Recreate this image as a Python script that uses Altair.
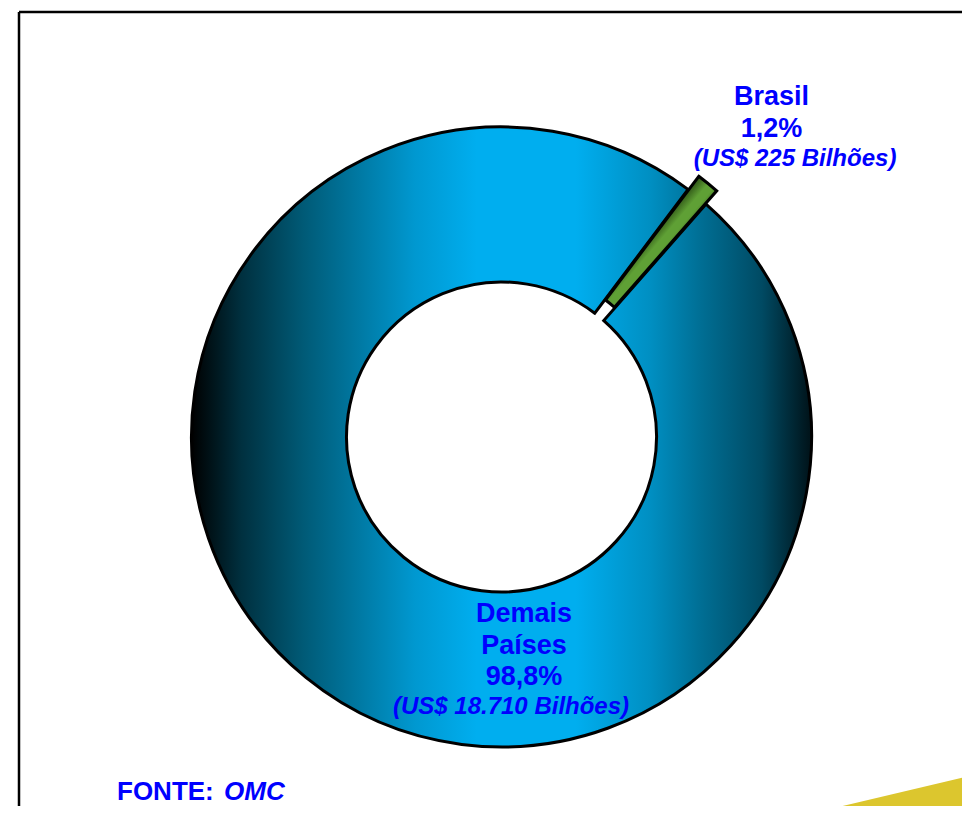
import math
import altair as alt
import pandas as pd

# ---------------- data ----------------
categories = ["Brasil", "Demais Países"]
values_bn = [225, 18710]                      # US$ bilhões
main_labels = ["Brasil\n1,2%", "Demais\nPaíses\n98,8%"]
sub_labels = ["(US$ 225 Bilhões)", "(US$ 18.710 Bilhões)"]
source_label = "FONTE:"
source_name = "OMC"

total = sum(values_bn)
df = pd.DataFrame({
    "cat": categories,
    "value": values_bn,
    "order": list(range(len(categories))),
    "main": main_labels,
    "sub": sub_labels,
})

# ---------------- layout / style ----------------
W, H = 954, 798
CX, CY = 493.5, 429
R_OUT, R_IN = 310, 155
START = math.radians(37.0)
EXPLODE = 17
FONT = "Liberation Sans"
BLUE_TXT = "#0000FF"

frac_br = values_bn[0] / total
mid = START + math.pi * frac_br
BX = CX + EXPLODE * math.sin(mid)
BY = CY - EXPLODE * math.cos(mid)

blue_grad = {
    "gradient": "linear", "x1": 0, "y1": 0, "x2": 1, "y2": 0,
    "stops": [
        {"offset": 0.0, "color": "#000000"},
        {"offset": 0.08, "color": "#00303f"},
        {"offset": 0.18, "color": "#005a76"},
        {"offset": 0.36, "color": "#0098d0"},
        {"offset": 0.46, "color": "#00aeef"},
        {"offset": 0.62, "color": "#00aeef"},
        {"offset": 0.74, "color": "#008fc2"},
        {"offset": 0.82, "color": "#006f95"},
        {"offset": 0.92, "color": "#004a63"},
        {"offset": 1.0, "color": "#001218"},
    ],
}
green_grad = {
    "gradient": "linear", "x1": 0, "y1": 0, "x2": 1, "y2": 1,
    "stops": [
        {"offset": 0.0, "color": "#142608"},
        {"offset": 0.42, "color": "#2d5216"},
        {"offset": 0.49, "color": "#5fa035"},
        {"offset": 0.53, "color": "#5fa035"},
        {"offset": 0.6, "color": "#2d5216"},
        {"offset": 1.0, "color": "#142608"},
    ],
}

theta_scale = alt.Scale(domain=[0, total], range=[START, START + 2 * math.pi])

base = alt.Chart(df).transform_stack(
    stack="value", as_=["t0", "t1"], groupby=[],
    sort=[alt.SortField("order", order="ascending")],
)

demais = base.transform_filter(alt.datum.cat == categories[1]).mark_arc(
    outerRadius=R_OUT, innerRadius=R_IN, fill=blue_grad,
    stroke="black", strokeWidth=3,
).encode(
    theta=alt.Theta("t0:Q", scale=theta_scale),
    theta2=alt.Theta2("t1"),
    x=alt.value(CX), y=alt.value(CY),
)

brasil = base.transform_filter(alt.datum.cat == categories[0]).mark_arc(
    outerRadius=R_OUT, innerRadius=R_IN, fill=green_grad,
    stroke="black", strokeWidth=3,
).encode(
    theta=alt.Theta("t0:Q", scale=theta_scale),
    theta2=alt.Theta2("t1"),
    x=alt.value(BX), y=alt.value(BY),
)

one = pd.DataFrame({"k": [0]})

frame_top = alt.Chart(one).mark_rule(color="black", strokeWidth=2.5).encode(
    x=alt.value(11), x2=alt.value(W + 10), y=alt.value(4))
frame_left = alt.Chart(one).mark_rule(color="black", strokeWidth=2.5).encode(
    x=alt.value(11), y=alt.value(4), y2=alt.value(H + 10))

yellow = alt.Chart(one).mark_arc(fill="#DCC62E", outerRadius=260, innerRadius=0).encode(
    theta=alt.value(1.339), theta2=alt.value(math.pi),
    x=alt.value(805), y=alt.value(805))

def label(cat, field, x, y, size, italic, line_h=32):
    kw = dict(font=FONT, fontSize=size, fontWeight="bold", color=BLUE_TXT,
              align="center", baseline="alphabetic", lineBreak="\n", lineHeight=line_h)
    if italic:
        kw["fontStyle"] = "italic"
    return alt.Chart(df).transform_filter(alt.datum.cat == cat).mark_text(**kw).encode(
        text=f"{field}:N", x=alt.value(x), y=alt.value(y))

br_main = label(categories[0], "main", 763.5, 97, 27, False, 32)
br_sub = label(categories[0], "sub", 787, 158, 24, True)
dm_main = label(categories[1], "main", 516, 614, 27, False, 31.5)
dm_sub = label(categories[1], "sub", 503, 706, 24, True)

src = pd.DataFrame({"a": [source_label], "b": [source_name]})
src1 = alt.Chart(src).mark_text(font=FONT, fontSize=26, fontWeight="bold", color=BLUE_TXT,
                                align="left", baseline="alphabetic").encode(
    text="a:N", x=alt.value(109), y=alt.value(792))
src2 = alt.Chart(src).mark_text(font=FONT, fontSize=26, fontWeight="bold", fontStyle="italic",
                                color=BLUE_TXT, align="left", baseline="alphabetic").encode(
    text="b:N", x=alt.value(216), y=alt.value(792))

chart = alt.layer(
    frame_top, frame_left, yellow, demais, brasil,
    br_main, br_sub, dm_main, dm_sub, src1, src2,
).properties(
    width=W, height=H, autosize="none", padding=0, background="white",
).configure_view(stroke=None)

chart.save("out.html", embed_options={"renderer": "svg", "actions": False})
